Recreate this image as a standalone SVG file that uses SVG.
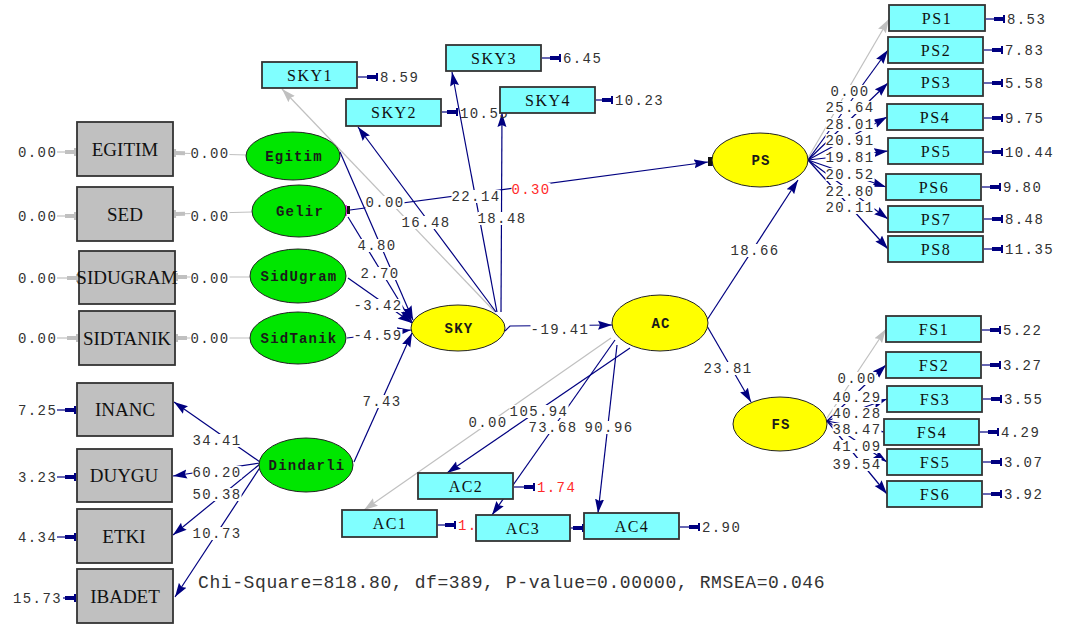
<svg xmlns="http://www.w3.org/2000/svg" width="1069" height="624" viewBox="0 0 1069 624">
<style>
.c{fill:none;stroke:#000080;stroke-width:1.2}
.cg{fill:none;stroke:#c0c0c0;stroke-width:1.2}
.n{font-family:"Liberation Mono",monospace;font-size:14px;letter-spacing:1.4px;fill:#333}
.pl{text-anchor:middle}
.lb rect{fill:#fff}
.r{fill:#ff2a2a}
.gbox{fill:#c0c0c0;stroke:#333;stroke-width:1.8}
.cbox{fill:#80ffff;stroke:#333;stroke-width:1.8}
.ge{fill:#00e600;stroke:#222;stroke-width:1}
.ye{fill:#ffff00;stroke:#222;stroke-width:1}
.bl{font-family:"Liberation Serif",serif;font-size:19px;fill:#111;text-anchor:middle}
.cl{font-family:"Liberation Serif",serif;font-size:16px;fill:#111;text-anchor:middle;letter-spacing:1.5px}
.el{font-family:"Liberation Mono",monospace;font-size:14px;font-weight:bold;letter-spacing:1.2px;fill:#1a1a1a;text-anchor:middle}
.fit{font-family:"Liberation Mono",monospace;font-size:18px;letter-spacing:0.6px;fill:#333}
</style>
<defs>
<marker id="a" markerUnits="userSpaceOnUse" markerWidth="15" markerHeight="10" refX="14" refY="5" orient="auto"><path d="M0,0.5 L14,5 L0,9.5 L2,5 z" fill="#000080"/></marker>
<marker id="ag" markerUnits="userSpaceOnUse" markerWidth="15" markerHeight="10" refX="14" refY="5" orient="auto"><path d="M0,0.5 L14,5 L0,9.5 L2,5 z" fill="#c0c0c0"/></marker>
<marker id="b" markerUnits="userSpaceOnUse" markerWidth="12" markerHeight="8" refX="11" refY="4" orient="auto"><path d="M0,2 L9,2 L9,0 L11,0 L11,8 L9,8 L9,6 L0,6 z" fill="#000080"/></marker>
<marker id="bg" markerUnits="userSpaceOnUse" markerWidth="12" markerHeight="8" refX="11" refY="4" orient="auto"><path d="M0,2 L9,2 L9,0 L11,0 L11,8 L9,8 L9,6 L0,6 z" fill="#c0c0c0"/></marker>
</defs>
<rect width="1069" height="624" fill="#fff"/>

<g id="connectors">
<path class="cg" d="M495,312 L282,89" marker-end="url(#ag)"/>
<path class="cg" d="M611,338 L364,510" marker-end="url(#ag)"/>
<path class="cg" d="M808,158 L889,19" marker-end="url(#ag)"/>
<path class="cg" d="M827,418 L886,329" marker-end="url(#ag)"/>
<path class="cg" d="M247,155 L174,153" marker-end="url(#bg)"/>
<path class="cg" d="M252,212 L174,214" marker-end="url(#bg)"/>
<path class="cg" d="M250,277 L176,277" marker-end="url(#bg)"/>
<path class="cg" d="M250,338 L176,338" marker-end="url(#bg)"/>
<path class="cg" d="M57,152 L76,152" marker-end="url(#bg)"/>
<path class="cg" d="M57,216 L76,216" marker-end="url(#bg)"/>
<path class="cg" d="M57,278 L78,278" marker-end="url(#bg)"/>
<path class="cg" d="M57,338 L78,338" marker-end="url(#bg)"/>
<path class="c" d="M57,410 L76,410" marker-end="url(#b)"/>
<path class="c" d="M57,477 L76,477" marker-end="url(#b)"/>
<path class="c" d="M57,537 L76,537" marker-end="url(#b)"/>
<path class="c" d="M63,598 L76,598" marker-end="url(#b)"/>
<path class="c" d="M340,152 L413,320" marker-end="url(#a)"/>
<path class="c" d="M348,217 L412,322" marker-end="url(#a)"/>
<path class="c" d="M348,278 L412,323" marker-end="url(#a)"/>
<path class="c" d="M347,338 L411,330" marker-end="url(#a)"/>
<path class="c" d="M354,462 L412,333" marker-end="url(#a)"/>
<path class="c" d="M496,312 L358,127" marker-end="url(#a)"/>
<path class="c" d="M497,312 L452,72" marker-end="url(#a)"/>
<path class="c" d="M501,312 L502,113" marker-end="url(#a)"/>
<path class="c" d="M350,210 L708,162" marker-end="url(#a)"/>
<path class="c" d="M505,331 L510,326 L612,325" marker-end="url(#a)"/>
<path class="c" d="M707,320 L798,180" marker-end="url(#a)"/>
<path class="c" d="M707,326 L751,402" marker-end="url(#a)"/>
<path class="c" d="M630,348 L447,473" marker-end="url(#a)"/>
<path class="c" d="M615,340 L492,515" marker-end="url(#a)"/>
<path class="c" d="M617,345 L598,513" marker-end="url(#a)"/>
<path class="c" d="M808,160 L888,50" marker-end="url(#a)"/>
<path class="c" d="M808,160 L888,83" marker-end="url(#a)"/>
<path class="c" d="M808,160 L887,117" marker-end="url(#a)"/>
<path class="c" d="M808,160 L888,151" marker-end="url(#a)"/>
<path class="c" d="M808,160 L886,187" marker-end="url(#a)"/>
<path class="c" d="M808,160 L888,219" marker-end="url(#a)"/>
<path class="c" d="M808,160 L888,249" marker-end="url(#a)"/>
<path class="c" d="M827,421 L886,365" marker-end="url(#a)"/>
<path class="c" d="M827,421 L887,399" marker-end="url(#a)"/>
<path class="c" d="M827,421 L884,432" marker-end="url(#a)"/>
<path class="c" d="M827,421 L887,462" marker-end="url(#a)"/>
<path class="c" d="M827,421 L887,494" marker-end="url(#a)"/>
<path class="c" d="M260,462 L174,402" marker-end="url(#a)"/>
<path class="c" d="M260,463 L173,476" marker-end="url(#a)"/>
<path class="c" d="M260,464 L173,535" marker-end="url(#a)"/>
<path class="c" d="M261,466 L175,597" marker-end="url(#a)"/>
<path class="c" d="M358,77 L378,77" marker-end="url(#b)"/>
<path class="c" d="M442,112 L458,112" marker-end="url(#b)"/>
<path class="c" d="M542,58 L561,58" marker-end="url(#b)"/>
<path class="c" d="M596,100 L613,100" marker-end="url(#b)"/>
<path class="c" d="M986,19 L1005,19" marker-end="url(#b)"/>
<path class="c" d="M984,50 L1003,50" marker-end="url(#b)"/>
<path class="c" d="M984,83 L1003,83" marker-end="url(#b)"/>
<path class="c" d="M984,118 L1003,118" marker-end="url(#b)"/>
<path class="c" d="M984,152 L1003,152" marker-end="url(#b)"/>
<path class="c" d="M982,187 L1001,187" marker-end="url(#b)"/>
<path class="c" d="M984,219 L1003,219" marker-end="url(#b)"/>
<path class="c" d="M984,249 L1003,249" marker-end="url(#b)"/>
<path class="c" d="M982,330 L1001,330" marker-end="url(#b)"/>
<path class="c" d="M982,365 L1001,365" marker-end="url(#b)"/>
<path class="c" d="M983,399 L1002,399" marker-end="url(#b)"/>
<path class="c" d="M980,432 L999,432" marker-end="url(#b)"/>
<path class="c" d="M983,462 L1002,462" marker-end="url(#b)"/>
<path class="c" d="M983,494 L1002,494" marker-end="url(#b)"/>
<path class="c" d="M514,487 L535,487" marker-end="url(#b)"/>
<path class="c" d="M438,525 L456,525" marker-end="url(#b)"/>
<path class="c" d="M571,528 L584,528" marker-end="url(#b)"/>
<path class="c" d="M680,527 L700,527" marker-end="url(#b)"/>
<rect x="344" y="205" width="3" height="11" fill="#ff40ff"/>
<rect x="347" y="206" width="3" height="8" fill="#111"/>
<rect x="708" y="157" width="4" height="9" fill="#111"/>
<rect x="712" y="157" width="4" height="9" fill="#0000ff"/>

<g class="lb">
<rect x="190.5" y="147" width="39" height="13"/>
<rect x="190.5" y="210" width="39" height="13"/>
<rect x="190.5" y="272" width="39" height="13"/>
<rect x="190.5" y="332" width="39" height="13"/>
<rect x="357.5" y="239" width="39" height="13"/>
<rect x="360.5" y="267" width="39" height="13"/>
<rect x="353.5" y="299" width="49" height="13"/>
<rect x="353.5" y="329" width="49" height="13"/>
<rect x="362.5" y="395" width="39" height="13"/>
<rect x="365.5" y="196" width="39" height="13"/>
<rect x="401.5" y="216" width="49" height="13"/>
<rect x="451.5" y="190" width="49" height="13"/>
<rect x="477.5" y="212" width="49" height="13"/>
<rect x="511.5" y="183" width="39" height="13"/>
<rect x="530.5" y="323" width="59" height="13"/>
<rect x="730.5" y="244" width="49" height="13"/>
<rect x="703.5" y="362" width="49" height="13"/>
<rect x="468.5" y="416" width="39" height="13"/>
<rect x="509.5" y="405" width="59" height="13"/>
<rect x="528.5" y="421" width="49" height="13"/>
<rect x="584.5" y="421" width="49" height="13"/>
<rect x="830.5" y="85" width="39" height="13"/>
<rect x="825.5" y="101" width="49" height="13"/>
<rect x="825.5" y="118" width="49" height="13"/>
<rect x="825.5" y="134" width="49" height="13"/>
<rect x="825.5" y="151" width="49" height="13"/>
<rect x="825.5" y="168" width="49" height="13"/>
<rect x="825.5" y="185" width="49" height="13"/>
<rect x="825.5" y="201" width="49" height="13"/>
<rect x="837.5" y="372" width="39" height="13"/>
<rect x="832.5" y="391" width="49" height="13"/>
<rect x="832.5" y="407" width="49" height="13"/>
<rect x="832.5" y="423" width="49" height="13"/>
<rect x="832.5" y="440" width="49" height="13"/>
<rect x="832.5" y="458" width="49" height="13"/>
<rect x="192.5" y="434" width="49" height="13"/>
<rect x="192.5" y="466" width="49" height="13"/>
<rect x="192.5" y="488" width="49" height="13"/>
<rect x="192.5" y="527" width="49" height="13"/>
</g>

<g class="n">
<text x="18" y="157">0.00</text>
<text x="18" y="221">0.00</text>
<text x="18" y="283">0.00</text>
<text x="18" y="343">0.00</text>
<text x="18" y="415">7.25</text>
<text x="18" y="482">3.23</text>
<text x="18" y="542">4.34</text>
<text x="13" y="603">15.73</text>
<text x="380" y="82">8.59</text>
<text x="460" y="118">10.55</text>
<text x="563" y="63">6.45</text>
<text x="615" y="105">10.23</text>
<text x="1007" y="24">8.53</text>
<text x="1005" y="55">7.83</text>
<text x="1005" y="88">5.58</text>
<text x="1005" y="123">9.75</text>
<text x="1005" y="157">10.44</text>
<text x="1003" y="192">9.80</text>
<text x="1005" y="224">8.48</text>
<text x="1005" y="254">11.35</text>
<text x="1003" y="335">5.22</text>
<text x="1003" y="370">3.27</text>
<text x="1004" y="404">3.55</text>
<text x="1001" y="437">4.29</text>
<text x="1004" y="467">3.07</text>
<text x="1004" y="499">3.92</text>
<text x="537" y="492" class="r">1.74</text>
<text x="458" y="530" class="r">1.</text>
<text x="702" y="532">2.90</text>
</g>
<g class="n pl">
<text x="210" y="158">0.00</text>
<text x="210" y="221">0.00</text>
<text x="210" y="283">0.00</text>
<text x="210" y="343">0.00</text>
<text x="377" y="250">4.80</text>
<text x="380" y="278">2.70</text>
<text x="378" y="310">-3.42</text>
<text x="378" y="340">-4.59</text>
<text x="382" y="406">7.43</text>
<text x="385" y="207">0.00</text>
<text x="426" y="227">16.48</text>
<text x="476" y="201">22.14</text>
<text x="502" y="223">18.48</text>
<text x="531" y="194" class="r">0.30</text>
<text x="560" y="334">-19.41</text>
<text x="755" y="255">18.66</text>
<text x="728" y="373">23.81</text>
<text x="488" y="427">0.00</text>
<text x="539" y="416">105.94</text>
<text x="553" y="432">73.68</text>
<text x="609" y="432">90.96</text>
<text x="850" y="96">0.00</text>
<text x="850" y="112">25.64</text>
<text x="850" y="129">28.01</text>
<text x="850" y="145">20.91</text>
<text x="850" y="162">19.81</text>
<text x="850" y="179">20.52</text>
<text x="850" y="196">22.80</text>
<text x="850" y="212">20.11</text>
<text x="857" y="383">0.00</text>
<text x="857" y="402">40.29</text>
<text x="857" y="418">40.28</text>
<text x="857" y="434">38.47</text>
<text x="857" y="451">41.09</text>
<text x="857" y="469">39.54</text>
<text x="217" y="445">34.41</text>
<text x="217" y="477">60.20</text>
<text x="217" y="499">50.38</text>
<text x="217" y="538">10.73</text>
</g>
</g>

<g id="EGITIM"><rect class="gbox" x="77" y="122" width="96" height="54"/><text class="bl" x="125" y="156">EGITIM</text></g>
<g id="SED"><rect class="gbox" x="77" y="187" width="96" height="54"/><text class="bl" x="125" y="221">SED</text></g>
<g id="SIDUGRAM"><rect class="gbox" x="79" y="251" width="96" height="53"/><text class="bl" x="127" y="284">SIDUGRAM</text></g>
<g id="SIDTANIK"><rect class="gbox" x="79" y="311" width="96" height="54"/><text class="bl" x="127" y="345">SIDTANIK</text></g>
<g id="INANC"><rect class="gbox" x="77" y="383" width="96" height="53"/><text class="bl" x="125" y="416">INANC</text></g>
<g id="DUYGU"><rect class="gbox" x="77" y="449" width="95" height="53"/><text class="bl" x="124" y="482">DUYGU</text></g>
<g id="ETKI"><rect class="gbox" x="77" y="509" width="95" height="54"/><text class="bl" x="124" y="543">ETKI</text></g>
<g id="IBADET"><rect class="gbox" x="77" y="569" width="96" height="54"/><text class="bl" x="125" y="603">IBADET</text></g>

<g id="Egitim"><ellipse class="ge" cx="293" cy="156" rx="47" ry="24"/><text class="el" x="294" y="161">Egitim</text></g>
<g id="Gelir"><ellipse class="ge" cx="299" cy="211" rx="47" ry="26"/><text class="el" x="300" y="216">Gelir</text></g>
<g id="SidUgram"><ellipse class="ge" cx="298" cy="276" rx="48" ry="27"/><text class="el" x="299" y="281">SidUgram</text></g>
<g id="SidTanik"><ellipse class="ge" cx="298" cy="338" rx="48" ry="26"/><text class="el" x="299" y="343">SidTanik</text></g>
<g id="Dindarli"><ellipse class="ge" cx="306" cy="465" rx="47" ry="27"/><text class="el" x="307" y="470">Dindarli</text></g>

<g id="SKY"><ellipse class="ye" cx="458" cy="328" rx="47" ry="23"/><text class="el" x="459" y="333">SKY</text></g>
<g id="AC"><ellipse class="ye" cx="660" cy="323" rx="48" ry="28"/><text class="el" x="661" y="328">AC</text></g>
<g id="PS"><ellipse class="ye" cx="760" cy="160" rx="48" ry="27"/><text class="el" x="761" y="165">PS</text></g>
<g id="FS"><ellipse class="ye" cx="780" cy="424" rx="47" ry="27"/><text class="el" x="781" y="429">FS</text></g>

<g id="SKY1"><rect class="cbox" x="262" y="62" width="95" height="26"/><text class="cl" x="310" y="81">SKY1</text></g>
<g id="SKY2"><rect class="cbox" x="346" y="99" width="95" height="27"/><text class="cl" x="394" y="118">SKY2</text></g>
<g id="SKY3"><rect class="cbox" x="446" y="45" width="95" height="26"/><text class="cl" x="494" y="64">SKY3</text></g>
<g id="SKY4"><rect class="cbox" x="500" y="87" width="95" height="26"/><text class="cl" x="548" y="106">SKY4</text></g>

<g id="PS1"><rect class="cbox" x="889" y="5" width="96" height="26"/><text class="cl" x="937" y="24">PS1</text></g>
<g id="PS2"><rect class="cbox" x="888" y="37" width="95" height="26"/><text class="cl" x="936" y="56">PS2</text></g>
<g id="PS3"><rect class="cbox" x="888" y="69" width="95" height="27"/><text class="cl" x="936" y="88">PS3</text></g>
<g id="PS4"><rect class="cbox" x="887" y="104" width="96" height="26"/><text class="cl" x="935" y="123">PS4</text></g>
<g id="PS5"><rect class="cbox" x="888" y="138" width="95" height="26"/><text class="cl" x="936" y="157">PS5</text></g>
<g id="PS6"><rect class="cbox" x="886" y="174" width="95" height="26"/><text class="cl" x="934" y="193">PS6</text></g>
<g id="PS7"><rect class="cbox" x="888" y="206" width="95" height="26"/><text class="cl" x="936" y="225">PS7</text></g>
<g id="PS8"><rect class="cbox" x="888" y="236" width="95" height="26"/><text class="cl" x="936" y="255">PS8</text></g>

<g id="FS1"><rect class="cbox" x="886" y="316" width="95" height="26"/><text class="cl" x="934" y="335">FS1</text></g>
<g id="FS2"><rect class="cbox" x="886" y="352" width="95" height="26"/><text class="cl" x="934" y="371">FS2</text></g>
<g id="FS3"><rect class="cbox" x="887" y="386" width="95" height="26"/><text class="cl" x="935" y="405">FS3</text></g>
<g id="FS4"><rect class="cbox" x="884" y="419" width="95" height="26"/><text class="cl" x="932" y="438">FS4</text></g>
<g id="FS5"><rect class="cbox" x="887" y="449" width="95" height="26"/><text class="cl" x="935" y="468">FS5</text></g>
<g id="FS6"><rect class="cbox" x="887" y="481" width="95" height="26"/><text class="cl" x="935" y="500">FS6</text></g>

<g id="AC2"><rect class="cbox" x="418" y="473" width="95" height="26"/><text class="cl" x="466" y="492">AC2</text></g>
<g id="AC1"><rect class="cbox" x="342" y="510" width="95" height="27"/><text class="cl" x="390" y="529">AC1</text></g>
<g id="AC3"><rect class="cbox" x="476" y="515" width="94" height="26"/><text class="cl" x="523" y="534">AC3</text></g>
<g id="AC4"><rect class="cbox" x="584" y="513" width="95" height="26"/><text class="cl" x="632" y="532">AC4</text></g>

<g id="fit"><text class="fit" x="198" y="588">Chi-Square=818.80, df=389, P-value=0.00000, RMSEA=0.046</text></g>
</svg>
